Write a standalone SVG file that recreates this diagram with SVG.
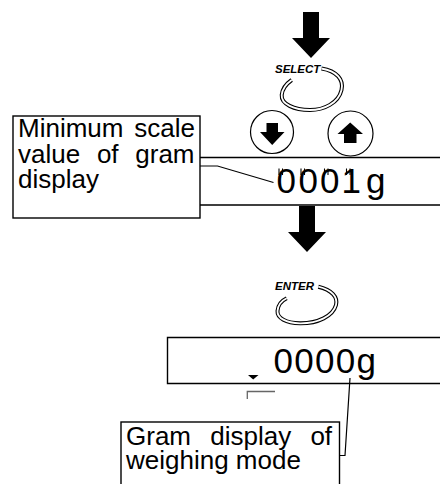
<svg xmlns="http://www.w3.org/2000/svg" width="440" height="484" viewBox="0 0 440 484">
<style>
.box{fill:#fff;stroke:#000;stroke-width:1.4}
.line{fill:none;stroke:#000;stroke-width:1.4}
.lead{fill:none;stroke:#000;stroke-width:1.2}
.lbl{font-family:"Liberation Sans",Arial,sans-serif;font-size:26px;fill:#000}
.disp{font-family:"Liberation Sans",Arial,sans-serif;font-size:35px;fill:#000}
.key{font-family:"Liberation Sans",Arial,sans-serif;font-size:11.5px;font-weight:bold;font-style:italic;fill:#000}
.ringO{fill:none;stroke:#000;stroke-width:4}
.ringI{fill:none;stroke:#fff;stroke-width:1.8}
.btn{fill:#fff;stroke:#000;stroke-width:1.2}
.tick{stroke:#000;stroke-width:1.1}
</style>
<defs>
<path id="bigArrow" d="M-8,0 H8 V26 H19 L0,46 L-19,26 H-8 Z"/>
</defs>

<g id="arrow-top"><use href="#bigArrow" x="311" y="12"/></g>

<g id="select-key">
<text class="key" x="275" y="73">SELECT</text>
<path class="ringO" d="M321.5,68.5 C337,71 344,80 341.5,90 C338.5,103 324,110 310,110 C294,110 281,104 281.7,95 C282.3,89 286,84 291.7,80"/>
<path class="ringI" d="M321.5,68.5 C337,71 344,80 341.5,90 C338.5,103 324,110 310,110 C294,110 281,104 281.7,95 C282.3,89 286,84 291.7,80"/>
</g>

<g id="btn-down">
<circle class="btn" cx="272" cy="132" r="21.5"/>
<path d="M266.5,123 H278 V132 H284.5 L272.2,145 L260,132 H266.5 Z" fill="#000"/>
</g>
<g id="btn-up">
<circle class="btn" cx="350.5" cy="133.5" r="22.5"/>
<path d="M350.2,122.5 L363,134 H356.5 V143 H344 V134 H337.5 Z" fill="#000"/>
</g>

<g id="display-1">
<path class="line" d="M200,157.5 H440 M200,205 H440"/>
<text class="disp" y="193"><tspan x="276.5">0</tspan><tspan x="298.5">0</tspan><tspan x="320">0</tspan><tspan x="341.5">1</tspan><tspan x="366">g</tspan></text>
<g id="ticks">
<path class="tick" d="M279,168.5 v6.5 M282.5,168.5 v6.5 M301,168.5 v6.5 M304.5,168.5 v6.5 M324.5,168.5 v6.5 M328,168.5 v6.5 M346.5,168.5 v6.5 M350,168.5 v6.5"/>
</g>
</g>

<g id="label-min">
<rect class="box" x="13" y="116" width="187" height="102"/>
<text class="lbl" x="18" y="137" word-spacing="3.5">Minimum scale</text>
<text class="lbl" x="18" y="162.5" word-spacing="9.5">value of gram</text>
<text class="lbl" x="18" y="188">display</text>
</g>

<g id="arrow-mid"><use href="#bigArrow" x="307" y="206"/></g>

<g id="enter-key">
<text class="key" x="275" y="290">ENTER</text>
<path class="ringO" d="M318.3,286.7 C332,290 338,297 336,305 C333,316 318,323.5 300,323.3 C286,323 277,318 277.5,311 C278,305 281,301 286.7,298.3"/>
<path class="ringI" d="M318.3,286.7 C332,290 338,297 336,305 C333,316 318,323.5 300,323.3 C286,323 277,318 277.5,311 C278,305 281,301 286.7,298.3"/>
</g>

<g id="display-2">
<path class="line" d="M440,337.5 H167.5 V383.5 H440"/>
<text class="disp" x="273.5" y="373" letter-spacing="1.3">0000g</text>
<path d="M248,375 H258.5 L253.2,379.5 Z" fill="#000"/>
<path d="M247.3,399 V391.5 H275" fill="none" stroke="#666" stroke-width="1.3"/>
</g>

<g id="label-gram">
<rect class="box" x="121" y="422" width="218.5" height="70"/>
<text class="lbl" x="126" y="444.5" word-spacing="12">Gram display of</text>
<text class="lbl" x="126" y="469">weighing mode</text>
</g>

<g id="connectors">
<path class="lead" d="M200,166 H217.5 L273.5,182.5"/>
<path class="lead" d="M350,378 L345,455.5 H339.5"/>
</g>
</svg>
